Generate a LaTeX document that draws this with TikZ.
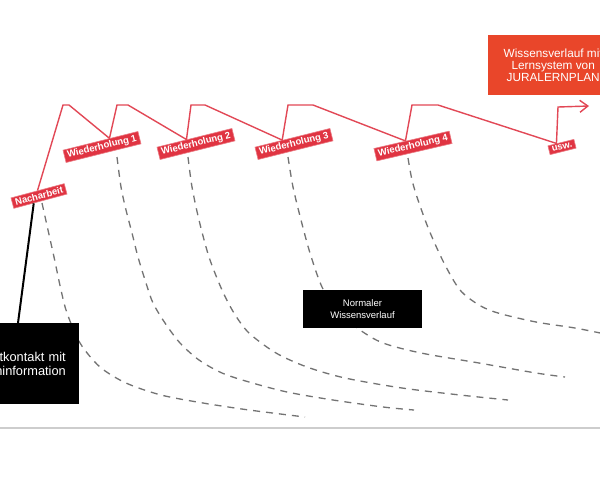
\documentclass[tikz,border=0pt]{standalone}
\usepackage{fontspec}
\setmainfont{Liberation Sans}
\usetikzlibrary{calc,arrows.meta}
\definecolor{labred}{RGB}{224,52,66}
\definecolor{linered}{RGB}{226,72,86}
\definecolor{boxorange}{RGB}{233,70,42}
\definecolor{dashgray}{RGB}{115,115,115}
\definecolor{baselinegray}{RGB}{205,205,205}
\begin{document}
\begin{tikzpicture}[x=1pt,y=-1pt,
  lab/.style={fill=labred, draw=labred!65!white, line width=0.6pt, text=white,
    font=\fontsize{9.5}{10}\selectfont\bfseries, inner xsep=3pt, inner ysep=1.9pt, rotate=14},
  redline/.style={draw=linered, line width=1.4pt, line join=miter},
  curve/.style={draw=dashgray, line width=1.3pt, dash pattern=on 7pt off 6pt},
  darkbox/.style={fill=black, text=white, inner sep=0pt},
]
\useasboundingbox (0,0) rectangle (600,480);
\clip (0,0) rectangle (600,480);
\fill[white] (0,0) rectangle (600,480);

% labels
\node[lab, rotate=1] (nach) at (39,196) {Nacharbeit};
\node[lab] (w1) at (102,147) {Wiederholung 1};
\node[lab] (w2) at (196,144) {Wiederholung 2};
\node[lab] (w3) at (294,144) {Wiederholung 3};
\node[lab, rotate=-1] (w4) at (413,146) {Wiederholung 4};
\node[lab] (usw) at (562,147) {usw.};

\coordinate (w1c) at ($(w1.north)!0.24!(w1.north east)$);
\coordinate (w2c) at ($(w2.north)!0.21!(w2.north west)$);
\coordinate (w3c) at ($(w3.north)!0.27!(w3.north west)$);
\coordinate (w4c) at ($(w4.north)!0.16!(w4.north west)$);
\coordinate (uswc) at ($(usw.north)!0.33!(usw.north west)$);

% red course
\draw[redline, -{Straight Barb[length=8pt,width=12pt,line width=1.4pt]}]
  (nach.north) -- (63,105) -- (69,105) -- (w1c) -- (117,105) -- (128,105)
  -- (w2c) -- (191,105) -- (205,105) -- (w3c) -- (288,105) -- (313,105)
  -- (w4c) -- (412,105) -- (438,105) -- (uswc) -- (558,107) -- (589,106);

% dashed forgetting curves
\draw[curve] plot[smooth] coordinates {(42,203) (48,230) (54,257) (61,290) (67,313) (80,343) (100,367) (126,383) (161,395) (203,403) (249,410) (305,417)};
\draw[curve] plot[smooth] coordinates {(117,157) (121,187) (126,210) (132,233) (138,257) (146,283) (153,303) (165,323) (180,343) (199,360) (222,373) (249,382) (287,392) (333,400) (383,407) (414,410)};
\draw[curve] plot[smooth] coordinates {(188,157) (192,187) (199,220) (209,257) (222,290) (234,313) (249,333) (276,353) (307,367) (345,378) (402,388) (460,395) (508,400)};
\draw[curve] plot[smooth] coordinates {(288,157) (293,187) (301,220) (310,253) (322,287) (338,312) (360,330) (383,343) (421,353) (479,363) (536,373) (565,377)};
\draw[curve] plot[smooth] coordinates {(408,158) (412,180) (418,200) (429,230) (444,263) (460,290) (479,305) (498,313) (536,322) (575,328) (605,334)};

% boxes
\node[darkbox, anchor=north east, minimum width=156pt, minimum height=81pt,
  text width=130pt, align=right, inner xsep=13pt,
  font=\fontsize{12.8}{14}\selectfont] (bk) at (79,323) {tkontakt mit\\ninformation};
\draw[line width=2pt] ($(nach.south)!0.25!(nach.south west)$) -- ($(bk.north east)+(-61,0)$);

\node[darkbox, minimum width=119pt, minimum height=38pt, align=center,
  font=\fontsize{9.5}{12}\selectfont] (nw) at (362.5,309) {Normaler\\Wissensverlauf};

\node[fill=boxorange, text=white, anchor=north west, minimum width=130pt,
  minimum height=60pt, align=center, inner sep=0pt,
  font=\fontsize{11.8}{11.8}\selectfont] (jp) at (488,35) {Wissensverlauf mit\\Lernsystem von\\JURALERNPLAN};

% baseline
\draw[baselinegray, line width=1.5pt] (0,428) -- (600,428);
\end{tikzpicture}
\end{document}
